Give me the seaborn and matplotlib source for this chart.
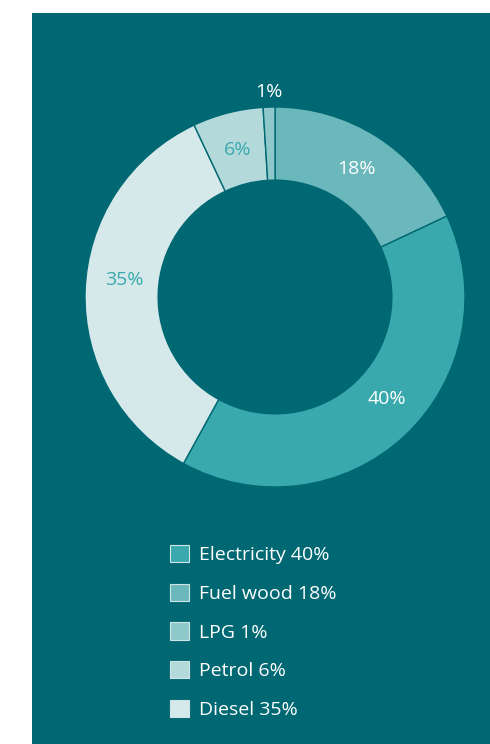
import matplotlib.pyplot as plt
import matplotlib.patches as mpatches
import seaborn as sns
import numpy as np

# drawing order, clockwise from 12 o'clock
fuels = ["Fuel wood", "Electricity", "Diesel", "Petrol", "LPG"]
shares = [18, 40, 35, 6, 1]

# legend order
legend_fuels = ["Electricity", "Fuel wood", "LPG", "Petrol", "Diesel"]

bg = "#006873"
colors = {
    "Electricity": "#3aa9ad",
    "Fuel wood": "#6ab8bb",
    "LPG": "#8fc8ca",
    "Petrol": "#b3d9db",
    "Diesel": "#d6e9ea",
}
label_colors = {
    "Electricity": "white",
    "Fuel wood": "white",
    "LPG": "white",
    "Petrol": "#3aa9ad",
    "Diesel": "#3aa9ad",
}
# small angle tweaks for the percentage labels (degrees)
label_nudge = {"Electricity": 4.5, "Diesel": -4.5}

sns.set_theme(style="white")
plt.rcParams["font.family"] = ["Open Sans", "DejaVu Sans"]
fs = 14

W, H = 490, 744
fig = plt.figure(figsize=(W / 100, H / 100), dpi=100)
fig.patch.set_facecolor("white")

# teal panel
panel = fig.add_axes([32 / W, 0, 1 - 32 / W, (H - 13) / H])
panel.set_facecolor(bg)
panel.set_xticks([])
panel.set_yticks([])
for sp in panel.spines.values():
    sp.set_visible(False)

cx, cy, r = 275, 297, 190
ax = fig.add_axes([(cx - r) / W, (H - cy - r) / H, 2 * r / W, 2 * r / H])
ax.set_facecolor("none")
ax.axis("off")

wedges, _ = ax.pie(shares, colors=[colors[f] for f in fuels], startangle=90,
                   counterclock=False, radius=1,
                   wedgeprops=dict(width=0.385, edgecolor=bg, linewidth=1))
ax.set_xlim(-1, 1)
ax.set_ylim(-1, 1)
ax.set_aspect("equal")

for f, s, w in zip(fuels, shares, wedges):
    mid = np.deg2rad((w.theta1 + w.theta2) / 2 + label_nudge.get(f, 0))
    rr = 1.08 if s < 3 else 0.8
    ax.text(rr * np.cos(mid), rr * np.sin(mid), f"{s}%", ha="center", va="center",
            color=label_colors[f], fontsize=fs, clip_on=False)

handles = [mpatches.Patch(facecolor=colors[f], edgecolor="#cfe6e7", linewidth=0.8)
           for f in legend_fuels]
labels = [f"{f} {shares[fuels.index(f)]}%" for f in legend_fuels]
leg = fig.legend(handles, labels, loc="upper left", bbox_to_anchor=(170 / W, (H - 545) / H),
                 frameon=False, fontsize=fs, handlelength=0.98, handleheight=0.98,
                 handletextpad=0.5, labelspacing=1.0, borderpad=0, borderaxespad=0)
for t in leg.get_texts():
    t.set_color("white")

fig.savefig("out.png", dpi=100, facecolor=fig.get_facecolor())
